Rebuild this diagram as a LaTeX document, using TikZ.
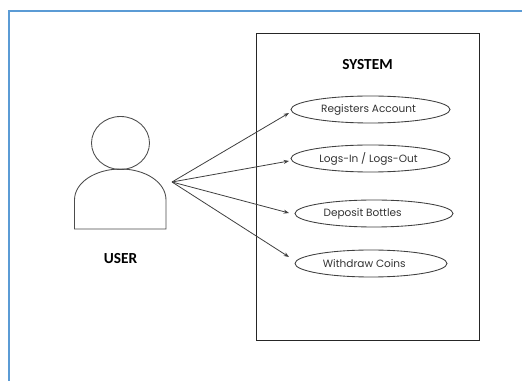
\documentclass[tikz,border=0pt]{standalone}
\usepackage{fontspec}
\setmainfont{Poppins}
\newfontfamily\boldf{Carlito}[BoldFont={Carlito Bold}]
\usetikzlibrary{shapes.geometric,arrows.meta}
\tikzset{
  x=0.75pt,y=-0.75pt,
  frameline/.style={draw=black!70,line width=0.65pt},
  usecase/.style={ellipse,draw=black!75,line width=0.65pt,inner sep=0pt,font=\fontsize{7.9pt}{9pt}\selectfont,text=black!80},
  link/.style={draw=black!75,line width=0.6pt,-{Stealth[length=4pt,width=3pt]}},
  heading/.style={font=\boldf\bfseries\fontsize{11.5pt}{13pt}\selectfont,inner sep=0pt}
}
\begin{document}
\begin{tikzpicture}
\useasboundingbox (0,0) rectangle (522,381);
\fill[white] (0,0) rectangle (522,381);
\draw[draw={rgb,255:red,91;green,155;blue,213},line width=1.4pt] (9,381) -- (9,11) -- (522,11);
\node[frameline,draw=black!85,minimum width=167.25pt,minimum height=230.25pt,inner sep=0pt] (sys) at (367.5,186.5) {};
\node[heading] (systitle) at (367.5,64.5) {SYSTEM};
\node[usecase,minimum width=119.25pt,minimum height=20.25pt] (u1) at (370.5,109.5) {Registers Account\hspace*{3pt}};
\node[usecase,minimum width=119.25pt,minimum height=20.25pt] (u2) at (370.5,158.5) {Logs-In / Logs-Out\hspace*{3pt}};
\node[usecase,minimum width=118.5pt,minimum height=20.25pt] (u3) at (374,213.5) {Deposit Bottles\hspace*{17pt}};
\node[usecase,minimum width=114pt,minimum height=20.25pt] (u4) at (371,263.5) {Withdraw Coins\hspace*{10pt}};
\node[ellipse,draw=black!70,line width=0.65pt,minimum width=43.5pt,minimum height=39.75pt,inner sep=0pt] (head) at (120.5,143) {};
\draw[frameline] (74.5,229) -- (74.5,200) .. controls (74.5,182) and (96,169) .. (120.5,169) .. controls (145,169) and (166,182) .. (166,200) -- (166,229) -- cycle;
\node[heading] (user) at (120.5,259) {USER};
\coordinate (src) at (172,182);
\draw[link] (src) -- (289,113);
\draw[link] (src) -- (289,161);
\draw[link] (src) -- (289,213);
\draw[link] (src) -- (289,257);
\end{tikzpicture}
\end{document}
